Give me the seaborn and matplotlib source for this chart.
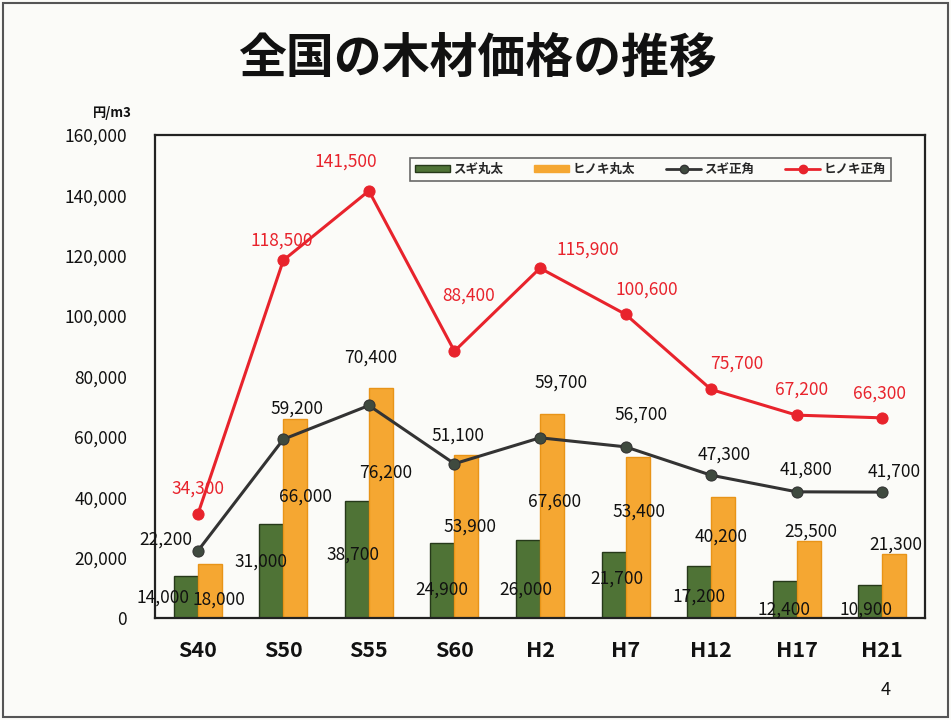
import matplotlib
matplotlib.use("Agg")
import matplotlib.pyplot as plt
from matplotlib.ticker import FuncFormatter, FixedLocator
from matplotlib.patches import Patch, Rectangle
from matplotlib.lines import Line2D
import numpy as np
import pandas as pd
import seaborn as sns

# data (円/m3)
periods = ["S40", "S50", "S55", "S60", "H2", "H7", "H12", "H17", "H21"]
sugi_log = [14000, 31000, 38700, 24900, 26000, 21700, 17200, 12400, 10900]
hinoki_log = [18000, 66000, 76200, 53900, 67600, 53400, 40200, 25500, 21300]
sugi_sq = [22200, 59200, 70400, 51100, 59700, 56700, 47300, 41800, 41700]
hinoki_sq = [34300, 118500, 141500, 88400, 115900, 100600, 75700, 67200, 66300]

# label offsets in pixels (dx, dy)
off_sugi_log = [(-35, 20), (-22, 56), (-16, 63), (-13, 28), (-14, 28), (-9, 39), (-12, 21), (-13, 8), (-16, 8)]
off_hinoki_log = [(21, -36), (22, -78), (17, -85), (16, -71), (15, -88), (13, -55), (10, -40), (14, 9), (14, 9)]
off_sugi_sq = [(-32, 11), (14, 31), (2, 48), (4, 28), (21, 55), (15, 32), (13, 21), (9, 22), (12, 20)]
off_hinoki_sq = [(0, 26), (-2, 20), (-23, 29), (14, 56), (48, 19), (21, 25), (26, 26), (5, 26), (-3, 24)]

green = "#4f7336"
orange = "#f5a732"
red = "#e8232c"
dark = "#333333"

sns.set_style("white")
plt.rcParams["font.family"] = ["Noto Sans CJK JP", "DejaVu Sans"]

fig = plt.figure(figsize=(9.51, 7.2), dpi=100, facecolor="#fbfbf8")
ax = fig.add_axes([155 / 951, 1 - 618 / 720, 770 / 951, 483 / 720])
ax.set_facecolor("#fbfbf8")

df = pd.DataFrame({
    "period": periods * 2,
    "value": sugi_log + hinoki_log,
    "series": ["スギ丸太"] * len(periods) + ["ヒノキ丸太"] * len(periods),
})
sns.barplot(data=df, x="period", y="value", hue="series",
            palette=[green, orange], width=0.56, gap=0, ax=ax,
            legend=False, saturation=1)
for cont, ec in zip(ax.containers, ["#26391a", "#e89418"]):
    for p in cont:
        p.set_edgecolor(ec)
        p.set_linewidth(1.0)

xs = np.arange(len(periods))
sns.lineplot(x=xs, y=sugi_sq, color=dark, marker="o", markersize=8,
             markerfacecolor="#3f4a3f", markeredgecolor=dark, linewidth=2.2, ax=ax)
sns.lineplot(x=xs, y=hinoki_sq, color=red, marker="o", markersize=8,
             markerfacecolor=red, markeredgecolor=red, linewidth=2.2, ax=ax)

ax.set_xlim(-0.5, 8.5)
ax.set_ylim(0, 160000)
ax.set_xlabel("")
ax.set_ylabel("")
ax.set_yticks(np.arange(0, 160001, 20000))
ax.yaxis.set_major_formatter(FuncFormatter(lambda v, p: f"{int(v):,}"))
ax.set_xticks(xs)
ax.set_xticklabels(periods)
ax.tick_params(axis="y", length=0, pad=20, labelsize=12.5, labelcolor="#111111")
ax.tick_params(axis="x", length=0, pad=16, labelsize=15.5, labelcolor="#111111")
ax.xaxis.set_minor_locator(FixedLocator(np.arange(0.5, 8, 1)))
ax.tick_params(axis="x", which="minor", direction="in", length=5, color="#555555")
for lab in ax.get_xticklabels():
    lab.set_fontweight("bold")
for s in ax.spines.values():
    s.set_color("#222222")
    s.set_linewidth(1.6)

# value labels
for i in range(len(periods)):
    ax.annotate(f"{sugi_log[i]:,}", (i, 0), xytext=off_sugi_log[i], textcoords="offset pixels",
                ha="center", va="center", fontsize=12.5, color="#111111")
    ax.annotate(f"{hinoki_log[i]:,}", (i, hinoki_log[i]), xytext=off_hinoki_log[i],
                textcoords="offset pixels", ha="center", va="center", fontsize=12.5, color="#111111")
    ax.annotate(f"{sugi_sq[i]:,}", (i, sugi_sq[i]), xytext=off_sugi_sq[i],
                textcoords="offset pixels", ha="center", va="center", fontsize=12.5, color="#111111")
    ax.annotate(f"{hinoki_sq[i]:,}", (i, hinoki_sq[i]), xytext=off_hinoki_sq[i],
                textcoords="offset pixels", ha="center", va="center", fontsize=12.5, color=red)

handles = [
    Patch(facecolor=green, edgecolor="#26391a", label="スギ丸太"),
    Patch(facecolor=orange, edgecolor=orange, label="ヒノキ丸太"),
    Line2D([], [], color=dark, marker="o", markersize=6, markerfacecolor="#3f4a3f", lw=2, label="スギ正角"),
    Line2D([], [], color=red, marker="o", markersize=6, lw=2, label="ヒノキ正角"),
]
leg = ax.legend(handles=handles, ncol=4, loc="upper left", bbox_to_anchor=(0.331, 0.953),
                frameon=True, fancybox=False, edgecolor="#444444",
                handlelength=2.8, handleheight=0.55, columnspacing=2.5, handletextpad=0.25,
                borderpad=0.4, borderaxespad=0.0, prop={"weight": "bold", "size": 9})
leg.get_frame().set_linewidth(1.2)
leg.get_frame().set_facecolor("#fbfbf8")

# title, unit, page number
fig.text(0.502, 1 - 58 / 720, "全国の木材価格の推移", ha="center", va="center",
         fontsize=34.5, fontweight="bold", color="#111111")
fig.text(132 / 951, 1 - 113 / 720, "円/m3", ha="right", va="center", fontsize=9.5,
         fontweight="bold", color="#111111")
fig.text(886 / 951, 1 - 690 / 720, "4", ha="center", va="center", fontsize=13, color="#111111")

fig.patches.append(Rectangle((0.003, 0.004), 0.994, 0.992, transform=fig.transFigure,
                             fill=False, edgecolor="#555555", linewidth=1.5))

fig.savefig("out.png", dpi=100, facecolor=fig.get_facecolor())
